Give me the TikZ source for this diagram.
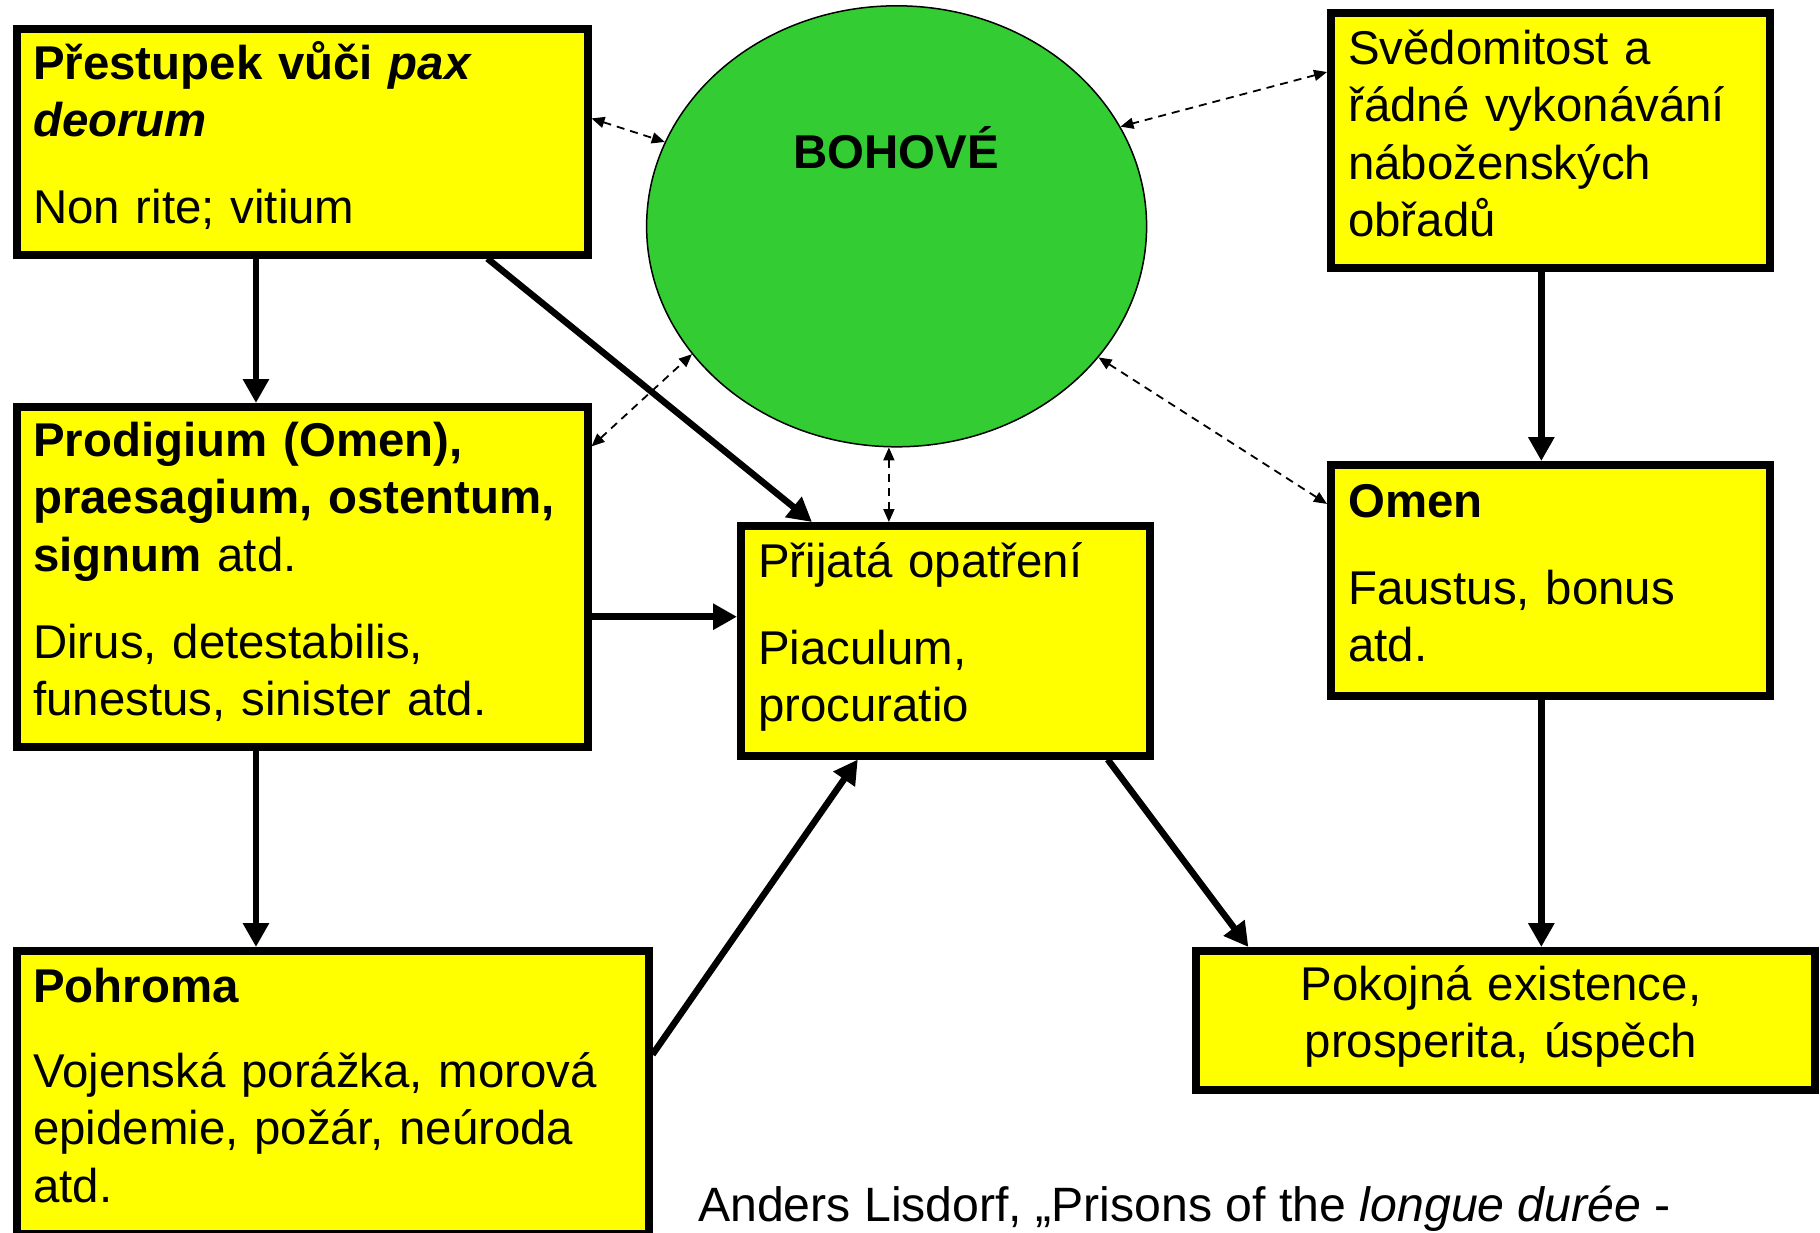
\documentclass[tikz,border=0pt]{standalone}
\usepackage{fontspec}
\setmainfont{Liberation Sans}
\usetikzlibrary{arrows.meta,shapes.geometric,calc}
\definecolor{boxyellow}{HTML}{FFFF00}
\definecolor{godgreen}{HTML}{33CC33}
\begin{document}
\begin{tikzpicture}[x=1pt,y=-1pt,
  box/.style={draw=black,fill=boxyellow,line width=7.5pt,anchor=north west,inner sep=0pt},
  txt/.style={inner sep=0pt,anchor=base west,align=left,text width=760pt,
    font=\fontsize{47.4}{57.5}\selectfont},
  ctxt/.style={inner sep=0pt,anchor=base,align=center,text width=600pt,
    font=\fontsize{47.4}{57.5}\selectfont},
  solidarrow/.style={line width=6.5pt,-{Triangle[length=24pt,width=25pt]}},
  dasharrow/.style={line width=1.8pt,dash pattern=on 8pt off 6pt,
    {Triangle[length=13pt,width=11pt]}-{Triangle[length=13pt,width=11pt]}}]
\useasboundingbox (0,0) rectangle (1820,1232);
\clip (0,0) rectangle (1820,1232);
\fill[white] (0,0) rectangle (1820,1232);

% boxes
\node[box,minimum width=571pt,minimum height=226pt] (A) at (13,25) {};
\node[box,minimum width=571pt,minimum height=340pt] (B) at (13,403) {};
\node[box,minimum width=632pt,minimum height=283pt] (C) at (13,947) {};
\node[box,minimum width=409pt,minimum height=230pt] (D) at (737,522) {};
\node[box,minimum width=439pt,minimum height=255pt] (E) at (1327,9) {};
\node[box,minimum width=439pt,minimum height=231pt] (F) at (1327,461) {};
\node[box,minimum width=619pt,minimum height=139pt] (G) at (1192,947) {};

% gods ellipse
\node[ellipse,draw=black,line width=1.5pt,fill=godgreen,minimum width=500pt,minimum height=441pt,inner sep=0pt] (Gods) at (896.6,226.3) {};
\node[inner sep=0pt,anchor=base,font=\fontsize{47.4}{57.5}\selectfont\bfseries] (godtxt) at (896,168) {BOHOVÉ};

% texts
\node[txt] (a1) at (33,79) {\textbf{Přestupek vůči \textit{pax}}\\\textbf{\textit{deorum}}};
\node[txt] (a2) at (33,223) {Non rite; vitium};
\node[txt] (b1) at (33,456) {\textbf{Prodigium (Omen),}\\\textbf{praesagium, ostentum,}\\\textbf{signum} atd.};
\node[txt] (b2) at (33,658) {Dirus, detestabilis,\\funestus, sinister atd.};
\node[txt] (c1) at (33,1002) {\textbf{Pohroma}};
\node[txt] (c2) at (33,1087) {Vojenská porážka, morová\\epidemie, požár, neúroda\\atd.};
\node[txt] (d1) at (758,577) {Přijatá opatření};
\node[txt] (d2) at (758,664) {Piaculum,\\procuratio};
\node[txt] (e1) at (1348,64) {Svědomitost a\\řádné vykonávání\\náboženských\\obřadů};
\node[txt] (f1) at (1348,517) {\textbf{Omen}};
\node[txt] (f2) at (1348,604) {Faustus, bonus\\atd.};
\node[ctxt] (g1) at (1501,1000) {Pokojná existence,\\prosperita, úspěch};
\node[inner sep=0pt,anchor=base west,font=\fontsize{48.2}{57.5}\selectfont] (cite) at (698,1221) {Anders Lisdorf, „Prisons of the \textit{longue durée} -};

% connector points
\coordinate (pA1) at ($(A.south west)!0.42!(A.south east)$);
\coordinate (pA2) at ($(A.south west)!0.82!(A.south east)$);
\coordinate (pD1) at ($(D.north west)!0.18!(D.north east)$);
\coordinate (pB3) at ($(B.north east)!0.615!(B.south east)$);
\coordinate (pB4) at ($(B.south west)!0.42!(B.south east)$);
\coordinate (pC5) at ($(C.north east)!0.37!(C.south east)$);
\coordinate (pD5) at ($(D.south west)!0.29!(D.south east)$);
\coordinate (pD6) at ($(D.south west)!0.89!(D.south east)$);
\coordinate (pG6) at ($(G.north west)!0.09!(G.north east)$);
\coordinate (pE7) at ($(E.south west)!0.48!(E.south east)$);
\coordinate (pF8) at ($(F.south west)!0.48!(F.south east)$);

% solid arrows
\draw[solidarrow] (pA1) -- (pA1 |- B.north);
\draw[solidarrow] (pA2) -- (pD1);
\draw[solidarrow] (pB3) -- (pB3 -| D.west);
\draw[solidarrow] (pB4) -- (pB4 |- C.north);
\draw[solidarrow] (pC5) -- (pD5);
\draw[solidarrow] (pD6) -- (pG6);
\draw[solidarrow] (pE7) -- (pE7 |- F.north);
\draw[solidarrow] (pF8) -- (pF8 |- G.north);

% dashed double arrows
\coordinate (qA) at ($(A.north east)!0.40!(A.south east)$);
\coordinate (qB) at ($(B.north east)!0.125!(B.south east)$);
\coordinate (qE) at ($(E.north west)!0.24!(E.south west)$);
\coordinate (qF) at ($(F.north west)!0.18!(F.south west)$);
\draw[dasharrow] (qA) -- (Gods.160.9);
\draw[dasharrow] (qB) -- (Gods.212.5);
\draw[dasharrow] (Gods.268) -- (Gods.268 |- D.north);
\draw[dasharrow] (qE) -- (Gods.24.7);
\draw[dasharrow] (qF) -- (Gods.327.4);
\end{tikzpicture}
\end{document}
